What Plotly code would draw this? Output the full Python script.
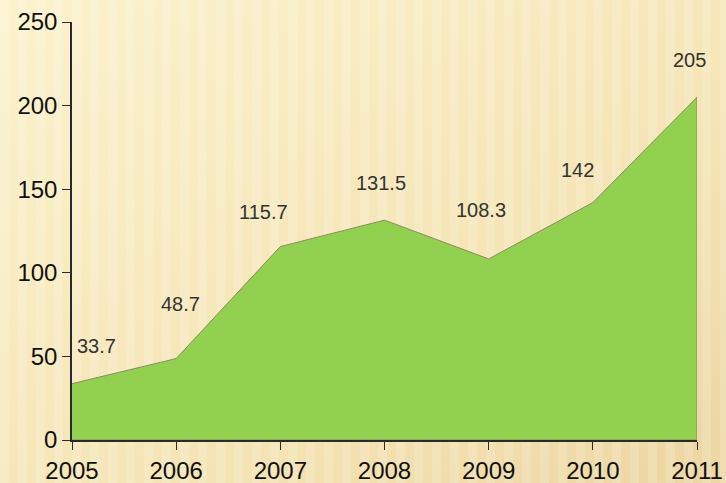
import plotly.graph_objects as go
import base64

years = [2005, 2006, 2007, 2008, 2009, 2010, 2011]
values = [33.7, 48.7, 115.7, 131.5, 108.3, 142, 205]
labels = ["33.7", "48.7", "115.7", "131.5", "108.3", "142", "205"]
label_dx = [24, 4, -17, -4, -8, -15, -8]
label_dy = [38, 55, 35, 37, 49, 33, 37]
y_ticks = [0, 50, 100, 150, 200, 250]

# decorative striped background (PowerPoint-like)
stripes = "".join(
    f'<rect x="{i*18}" y="0" width="9" height="483" fill="#ffffff" opacity="0.16"/>'
    for i in range(45)
)
svg = f'''<svg xmlns="http://www.w3.org/2000/svg" width="726" height="483">
<defs><linearGradient id="g" x1="0" y1="0" x2="1" y2="1">
<stop offset="0" stop-color="#FCF2CD"/><stop offset="0.6" stop-color="#F5E5B6"/>
<stop offset="1" stop-color="#ECD6A2"/></linearGradient></defs>
<rect width="726" height="483" fill="url(#g)"/>{stripes}</svg>'''
bg = "data:image/svg+xml;base64," + base64.b64encode(svg.encode()).decode()

fig = go.Figure()
fig.add_trace(go.Scatter(
    x=years + [years[-1], years[0]],
    y=values + [0, 0],
    fill="toself",
    fillcolor="#92D050",
    line=dict(color="#8A8A62", width=1),
    mode="lines",
    hoverinfo="skip",
))

for x, v, t, dx, dy in zip(years, values, labels, label_dx, label_dy):
    fig.add_annotation(x=x, y=v, text=t, showarrow=False, xshift=dx, yshift=dy,
                       font=dict(size=20, color="#333333", family="Liberation Sans, Arial"))

fig.update_layout(
    width=726, height=483,
    margin=dict(l=72, r=29, t=22, b=43, autoexpand=False),
    paper_bgcolor="#F5E7BA",
    plot_bgcolor="rgba(0,0,0,0)",
    showlegend=False,
    images=[dict(source=bg, xref="paper", yref="paper", x=-72/625, y=1+22/418,
                 sizex=726/625, sizey=483/418, xanchor="left", yanchor="top",
                 sizing="stretch", layer="below")],
    font=dict(family="Liberation Sans, Arial", color="#111111"),
)
fig.update_xaxes(range=[2005, 2011], tickvals=years, ticktext=[str(y) for y in years],
                 showgrid=False, zeroline=False, showline=True, linecolor="#2a2a2a",
                 linewidth=1.5, ticks="outside", ticklen=8, tickcolor="#2a2a2a",
                 tickfont=dict(size=24), automargin=False)
fig.update_yaxes(range=[0, 250], tickvals=y_ticks, showgrid=False, zeroline=False,
                 showline=True, linecolor="#2a2a2a", linewidth=1.5, ticks="outside",
                 ticklen=8, tickcolor="#2a2a2a", tickfont=dict(size=24), automargin=False)

fig.write_html("out.html", config={"displayModeBar": False},
               post_script="document.body.style.margin='0';document.body.style.overflow='hidden';")
